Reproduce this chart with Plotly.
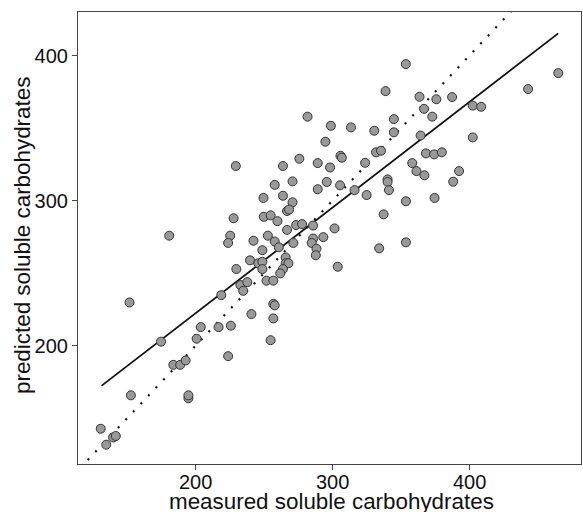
import plotly.graph_objects as go

measured = [152, 175, 153, 131, 135, 140, 142, 184, 189, 193, 195, 195, 204, 201, 217, 226, 219, 224,
            241, 255, 257, 258, 257, 230, 233, 235, 238, 240, 246, 249, 249, 252, 257, 181, 228, 225.5,
            224, 242.5, 253, 258, 249, 261, 250, 255, 260, 267, 273.6, 278, 271.6, 266, 266, 268, 264,
            262, 249.8, 264, 271, 267, 268.5, 258, 271, 229.6, 264, 276, 289.4, 282, 289.4, 286, 286,
            285, 288.5, 288, 293.5, 301.7, 304, 334.3, 353.8, 337.5, 353.8, 374.7, 296, 305.7, 316.3,
            325.1, 340.4, 340.4, 341.4, 358.4, 361.5, 367.3, 368.4, 374.4, 380, 392.6, 388.3, 298.4,
            306, 307, 324, 332, 335.6, 295, 299, 313.7, 330.7, 345, 345, 364.5, 367, 373, 338.9, 353.7,
            363.7, 376, 387.5, 402.6, 408.7, 402.6, 443, 465]
predicted = [230, 203, 166, 143, 132, 137, 138, 187, 187, 190, 164, 166, 213, 205, 213, 214, 235, 193,
             222, 204, 229, 228, 219, 253, 242, 238, 244, 259, 257, 258, 253, 245, 245, 276, 288, 276,
             271, 272.5, 276, 272, 266, 268, 289, 290, 286, 280, 283.3, 284, 271, 261, 257, 257, 253,
             250, 302, 303.5, 299, 293, 294, 311, 313.4, 324, 324, 329, 326, 358, 308, 283, 274,
             271, 267, 262.5, 275, 281, 254.6, 267.3, 271.4, 290.7, 299.7, 302, 313, 310.7, 307.4,
             304, 314.8, 313, 307.4, 326, 320.5, 317.6, 332.7, 332, 333.4, 320.5, 313.2, 323,
             331, 329.7, 326.2, 333.4, 334.5, 340.7, 351.7, 350.6, 348.3, 347.2, 356.3, 345, 363.4, 358, 375.6, 394.2,
             371.7, 370, 371.5, 365.6, 364.8, 343.7, 377, 388]

# regression line endpoints
fit_x = [131.5, 465]
fit_y = [172.5, 415.4]
# 1:1 line
one_x = [116, 440]
one_y = [116, 440]

x_ticks = [200, 300, 400]
x_tick_labels = ["200", "300", "400"]
y_ticks = [200, 300, 400]
x_title = "measured soluble carbohydrates"
y_title = "predicted soluble carbohydrates"

W, H = 583, 512
ML, MR, MT, MB = 78, 2, 12, 48
pw = W - ML - MR
ph = H - MT - MB
bottom = MT + ph


def py(pix):
    return (bottom - pix) / ph


def px(pix):
    return (pix - ML) / pw


fig = go.Figure()
fig.add_trace(go.Scatter(x=one_x, y=one_y, mode="lines",
                         line=dict(color="#111111", width=2.2, dash="2px,9px"),
                         hoverinfo="skip"))
fig.add_trace(go.Scatter(x=fit_x, y=fit_y, mode="lines",
                         line=dict(color="#111111", width=1.8), hoverinfo="skip"))
fig.add_trace(go.Scatter(x=measured, y=predicted, mode="markers",
                         marker=dict(size=9, color="#999999", line=dict(color="#333333", width=1))))

font = "Liberation Sans, Arial, sans-serif"
annotations = [
    dict(text=x_title, xref="paper", yref="paper", x=px(331.5), y=py(501.8),
         xanchor="center", yanchor="middle", showarrow=False,
         font=dict(size=22.4, color="#111111")),
    dict(text=y_title, xref="paper", yref="paper", x=px(22), y=py(236), textangle=-90,
         xanchor="center", yanchor="middle", showarrow=False,
         font=dict(size=22.4, color="#111111")),
]
for v, lab in zip(x_ticks, x_tick_labels):
    annotations.append(dict(text=lab, xref="x", yref="paper", x=v, y=py(481.8),
                            xanchor="center", yanchor="middle", showarrow=False,
                            font=dict(size=20, color="#111111")))

fig.update_layout(
    width=W, height=H,
    margin=dict(l=ML, r=MR, t=MT, b=MB, autoexpand=False),
    plot_bgcolor="white", paper_bgcolor="white",
    showlegend=False,
    font=dict(family=font, size=20, color="#111111"),
    annotations=annotations,
)
fig.update_xaxes(range=[114.4, 481.6], tickvals=x_ticks, ticks="outside", ticklen=5,
                 tickcolor="#444444", showgrid=False, zeroline=False, automargin=False,
                 showticklabels=False,
                 showline=True, linecolor="#444444", linewidth=1.2, mirror=True)
fig.update_yaxes(range=[118.7, 430.1], tickvals=y_ticks, ticks="outside", ticklen=5,
                 tickcolor="#444444", showgrid=False, zeroline=False, automargin=False,
                 showline=True, linecolor="#444444", linewidth=1.2, mirror=True,
                 tickfont=dict(size=20))
fig.write_html("out.html",
               config={"displayModeBar": False},
               post_script="document.body.style.margin='0';"
                           "document.documentElement.style.overflow='hidden';")
